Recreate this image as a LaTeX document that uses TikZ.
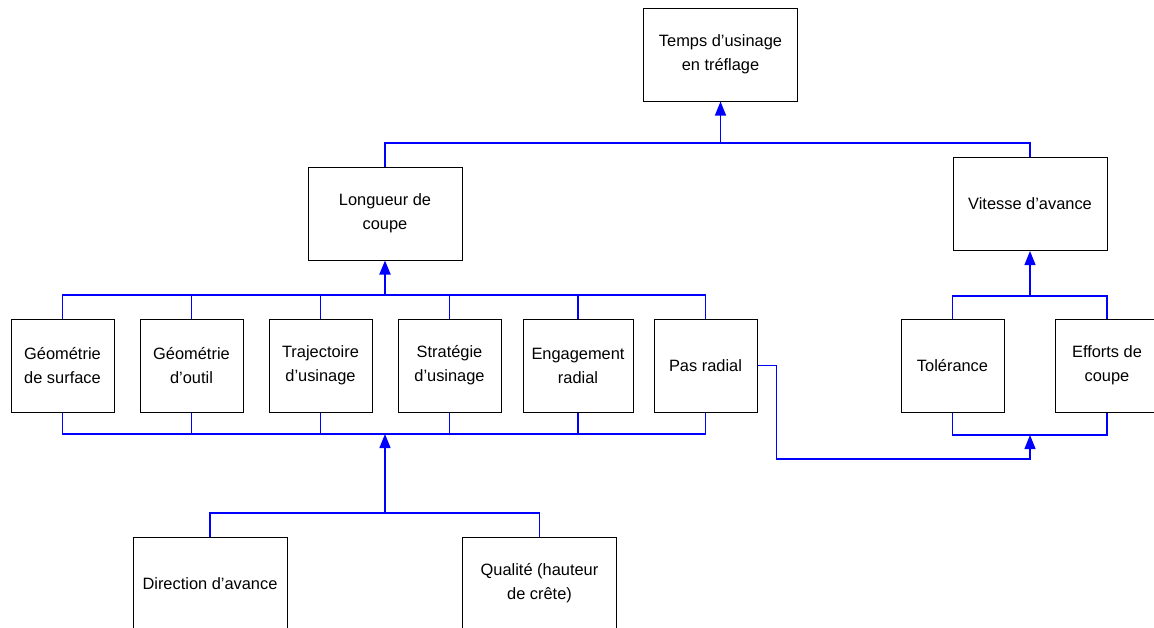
\documentclass[tikz,border=0pt]{standalone}
\usepackage{fontspec}
\setmainfont{Liberation Sans}
\usetikzlibrary{arrows.meta}

\begin{document}
\begin{tikzpicture}[x=1pt,y=-1pt,
	bloc/.style={draw=black,line width=1pt,align=center,minimum width=103pt,minimum height=93pt,inner sep=2pt,font=\fontsize{16.4}{24}\selectfont},
	large/.style={minimum width=154pt},
	lien/.style={draw=blue,line width=1.2pt},
	fleche/.style={lien,-{Triangle[length=14pt,width=11pt]}}]
\useasboundingbox (0,0) rectangle (1154,627);
%\fill[white] (0,0) rectangle (1154,627);

% niveau haut
\node[bloc,large] (temps) at (720.5,54.5) {Temps d’usinage\\en tréflage};
\node[bloc,large] (long) at (385,213.5) {Longueur de\\coupe};
\node[bloc,large] (vit) at (1030,204) {Vitesse d’avance};

% parametres
\node[bloc] (gs) at (62.5,365.5) {Géométrie\\de surface};
\node[bloc] (go) at (191.5,365.5) {Géométrie\\d’outil};
\node[bloc] (tu) at (320.5,365.5) {Trajectoire\\d’usinage};
\node[bloc] (su) at (449.5,365.5) {Stratégie\\d’usinage};
\node[bloc,minimum width=110pt] (er) at (578,365.5) {Engagement\\radial};
\node[bloc] (pr) at (705.5,365.5) {Pas radial};
\node[bloc] (tol) at (952.5,365.5) {Tolérance};
\node[bloc] (ec) at (1107,365.5) {Efforts de\\coupe};

% niveau bas
\node[bloc,large] (da) at (210,583.5) {Direction d’avance};
\node[bloc,large] (qh) at (539.5,583.5) {Qualité (hauteur\\de crête)};

% jonctions
\coordinate (j1) at (720.5,143);
\coordinate (j2) at (385,295);
\coordinate (j3) at (385,434);
\coordinate (j4) at (385,513);
\coordinate (j5) at (1030,296);
\coordinate (j6) at (1030,435);
\coordinate (j7) at (1030,459);

\draw[lien] (long.north) |- (j1) -| (vit.north);
\draw[fleche] (j1) -- (temps.south);

\foreach \n in {gs,go,tu,su,er,pr}
	\draw[lien] (\n.north) |- (j2);
\draw[fleche,line width=2pt] (j2) -- (long.south);

\foreach \n in {gs,go,tu,su,er,pr}
	\draw[lien] (\n.south) |- (j3);
\draw[lien] (da.north) |- (j4) -| (qh.north);
\draw[fleche] (j4) -- (j3);

\draw[lien] (tol.north) |- (j5) -| (ec.north);
\draw[fleche] (j5) -- (vit.south);

\draw[lien] (tol.south) |- (j6) -| (ec.south);
\draw[fleche] (pr.east) -- ++(19,0) |- (j7) -- (j6);
\end{tikzpicture}
\end{document}
